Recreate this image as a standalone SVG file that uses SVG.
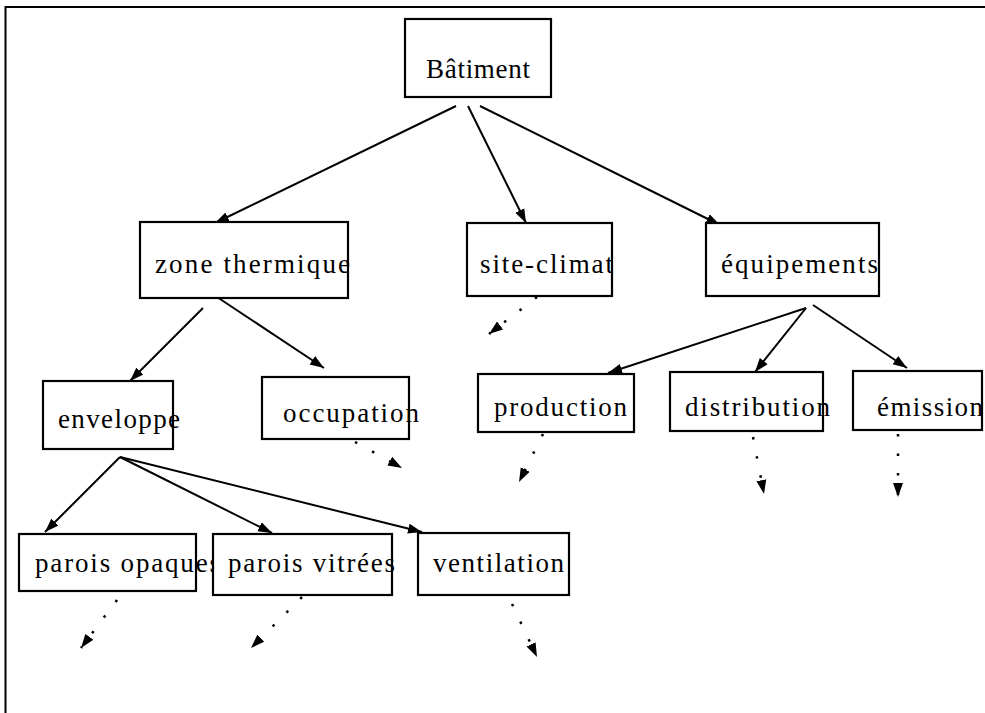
<svg xmlns="http://www.w3.org/2000/svg" width="985" height="713" viewBox="0 0 985 713">
<style>
.box{fill:#fff;stroke:#000;stroke-width:2.2}
.lbl{font-family:"Liberation Serif","DejaVu Serif",serif;font-size:27px;fill:#000}
.edge{stroke:#000;stroke-width:2;fill:none;marker-end:url(#ah)}
.dot{stroke:#000;stroke-width:2.5;fill:none;stroke-dasharray:2.5 17;marker-end:url(#ah)}
.frame{stroke:#000;stroke-width:2;fill:none}
</style>
<defs>
<marker id="ah" markerUnits="userSpaceOnUse" markerWidth="15" markerHeight="11" refX="14" refY="5.5" orient="auto">
<path d="M0,0.5 L14,5.5 L0,10.5 z" fill="#000"/>
</marker>
</defs>
<rect width="985" height="713" fill="#fff"/>
<path class="frame" d="M5.5,713 V7 H985"/>
<g id="connectors">
<path class="edge" d="M456,106 L215,223"/>
<path class="edge" d="M468,106 L526,223"/>
<path class="edge" d="M480,106 L720,225"/>
<path class="edge" d="M203,308 L130,381"/>
<path class="edge" d="M217,297 L324,368"/>
<path class="edge" d="M806,308 L608,373"/>
<path class="edge" d="M806,308 L755,372"/>
<path class="edge" d="M813,305 L907,368"/>
<path class="edge" d="M120,457 L45,532"/>
<path class="edge" d="M120,457 L272,533"/>
<path class="edge" d="M120,457 L422,532"/>
<path class="dot" d="M537,297 L489,334"/>
<path class="dot" d="M355,442 L402,468"/>
<path class="dot" d="M543,434 L519,482"/>
<path class="dot" d="M753,437 L764,494"/>
<path class="dot" d="M898,434 L898,497"/>
<path class="dot" d="M117,600 L81,648"/>
<path class="dot" d="M302,597 L251,648"/>
<path class="dot" d="M512,604 L537,657"/>
</g>
<g id="batiment"><rect class="box" x="405" y="19" width="146" height="78"/><text class="lbl" x="426" y="78" font-size="26" textLength="104" lengthAdjust="spacing">Bâtiment</text></g>
<g id="zone-thermique"><rect class="box" x="140" y="222" width="208" height="76"/><text class="lbl" x="155" y="273" textLength="195" lengthAdjust="spacing">zone thermique</text></g>
<g id="site-climat"><rect class="box" x="467" y="223" width="145" height="73"/><text class="lbl" x="480" y="273" textLength="133" lengthAdjust="spacing">site-climat</text></g>
<g id="equipements"><rect class="box" x="706" y="223" width="173" height="73"/><text class="lbl" x="721" y="273" textLength="157" lengthAdjust="spacing">équipements</text></g>
<g id="enveloppe"><rect class="box" x="43" y="381" width="130" height="68"/><text class="lbl" x="58" y="428" textLength="122" lengthAdjust="spacing">enveloppe</text></g>
<g id="occupation"><rect class="box" x="262" y="377" width="147" height="62"/><text class="lbl" x="283" y="422" textLength="136" lengthAdjust="spacing">occupation</text></g>
<g id="production"><rect class="box" x="478" y="374" width="156" height="58"/><text class="lbl" x="494" y="416" textLength="133" lengthAdjust="spacing">production</text></g>
<g id="distribution"><rect class="box" x="670" y="372" width="153" height="59"/><text class="lbl" x="685" y="416" textLength="145" lengthAdjust="spacing">distribution</text></g>
<g id="emission"><rect class="box" x="853" y="371" width="129" height="59"/><text class="lbl" x="877" y="416" textLength="106" lengthAdjust="spacing">émission</text></g>
<g id="parois-opaques"><rect class="box" x="19" y="534" width="177" height="57"/><text class="lbl" x="35" y="572" textLength="185" lengthAdjust="spacing">parois opaques</text></g>
<g id="parois-vitrees"><rect class="box" x="213" y="534" width="179" height="61"/><text class="lbl" x="228" y="572" textLength="167" lengthAdjust="spacing">parois vitrées</text></g>
<g id="ventilation"><rect class="box" x="418" y="533" width="151" height="62"/><text class="lbl" x="433" y="572" textLength="131" lengthAdjust="spacing">ventilation</text></g>
</svg>
